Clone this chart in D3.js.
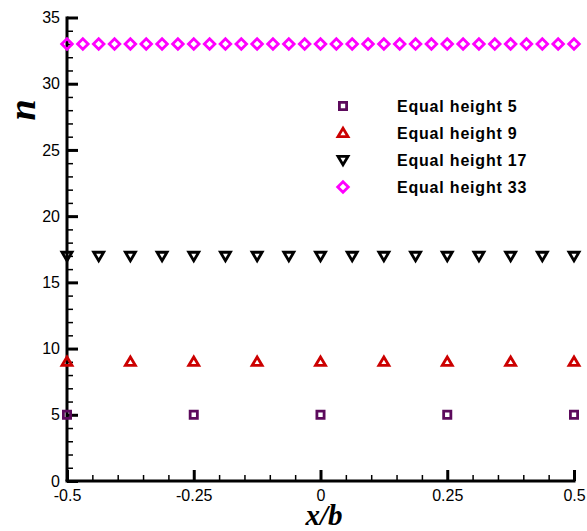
<!DOCTYPE html>
<html><head><meta charset="utf-8">
<script src="https://cdn.jsdelivr.net/npm/d3@7/dist/d3.min.js"></script>
<style>body{margin:0;background:#fff}svg{display:block}</style>
</head><body>
<script>
const xs5 = [-0.5, -0.25, 0, 0.25, 0.5];
const xs9 = [-0.5, -0.375, -0.25, -0.125, 0, 0.125, 0.25, 0.375, 0.5];
const xs17 = [-0.5, -0.4375, -0.375, -0.3125, -0.25, -0.1875, -0.125, -0.0625, 0, 0.0625, 0.125, 0.1875, 0.25, 0.3125, 0.375, 0.4375, 0.5];
const xs33 = [-0.5, -0.46875, -0.4375, -0.40625, -0.375, -0.34375, -0.3125, -0.28125, -0.25, -0.21875, -0.1875, -0.15625, -0.125, -0.09375, -0.0625, -0.03125, 0, 0.03125, 0.0625, 0.09375, 0.125, 0.15625, 0.1875, 0.21875, 0.25, 0.28125, 0.3125, 0.34375, 0.375, 0.40625, 0.4375, 0.46875, 0.5];
const ys5 = [5, 5, 5, 5, 5];
const ys9 = [9, 9, 9, 9, 9, 9, 9, 9, 9];
const ys17 = [17, 17, 17, 17, 17, 17, 17, 17, 17, 17, 17, 17, 17, 17, 17, 17, 17];
const ys33 = [33, 33, 33, 33, 33, 33, 33, 33, 33, 33, 33, 33, 33, 33, 33, 33, 33, 33, 33, 33, 33, 33, 33, 33, 33, 33, 33, 33, 33, 33, 33, 33, 33];
const seriesNames = ["Equal height 5", "Equal height 9", "Equal height 17", "Equal height 33"];
const xTicks = [-0.5, -0.25, 0, 0.25, 0.5];
const xTickLabels = ["-0.5", "-0.25", "0", "0.25", "0.5"];
const yTicks = [0, 5, 10, 15, 20, 25, 30, 35];

const W = 587, H = 531;
const svg = d3.select("body").append("svg").attr("width", W).attr("height", H);
const x = d3.scaleLinear().domain([-0.5, 0.5]).range([67, 574]);
const y = d3.scaleLinear().domain([0, 35]).range([481, 17.5]);

const styles = [
  {sym: "square", color: "#5c0a5c"},
  {sym: "tri", color: "#cc0000"},
  {sym: "tridown", color: "#000000"},
  {sym: "diamond", color: "#ff00ff"}
];
function sym(g, kind, color) {
  let d;
  if (kind === "square") d = "M-3.6,-3.6H3.6V3.6H-3.6Z";
  else if (kind === "tri") d = "M0,-4.8L5,3.6H-5Z";
  else if (kind === "tridown") d = "M0,4.8L5,-3.6H-5Z";
  else d = "M0,-5.3L5.3,0L0,5.3L-5.3,0Z";
  g.append("path").attr("d", d).attr("fill", "none").attr("stroke", color).attr("stroke-width", 2.8).attr("stroke-linejoin", "miter");
}

const font = "Arial, Liberation Sans, sans-serif";
// axes
const xMinor = d3.range(-0.5, 0.5001, 0.05).map(v => +v.toFixed(3));
const yMinor = d3.range(0, 35.001, 1);
const ax = svg.append("g");
const gx = ax.append("g").attr("transform", `translate(0,${y(0)})`)
  .call(d3.axisBottom(x).tickValues(xMinor).tickSize(-6).tickFormat(""));
gx.selectAll("line").attr("stroke", "#000").attr("stroke-width", 1.5);
const gx2 = ax.append("g").attr("transform", `translate(0,${y(0)})`)
  .call(d3.axisBottom(x).tickValues(xTicks).tickSize(-11).tickPadding(9).tickFormat((d, i) => xTickLabels[i]));
gx2.selectAll("line").attr("stroke", "#000").attr("stroke-width", 3);
gx2.selectAll("text").attr("font-family", font).attr("font-size", 16).attr("fill", "#000");
ax.selectAll(".domain").remove();

const gy = ax.append("g").attr("transform", `translate(${x(-0.5)},0)`)
  .call(d3.axisLeft(y).tickValues(yMinor).tickSize(-6).tickFormat(""));
gy.selectAll("line").attr("stroke", "#000").attr("stroke-width", 1.5);
const gy2 = ax.append("g").attr("transform", `translate(${x(-0.5)},0)`)
  .call(d3.axisLeft(y).tickValues(yTicks).tickSize(-11).tickPadding(7).tickFormat(d3.format("d")));
gy2.selectAll("line").attr("stroke", "#000").attr("stroke-width", 3);
gy2.selectAll("text").attr("font-family", font).attr("font-size", 16).attr("fill", "#000");
ax.selectAll(".domain").remove();

ax.append("line").attr("x1", x(-0.5) - 1.5).attr("x2", x(0.5) + 1.5).attr("y1", y(0)).attr("y2", y(0)).attr("stroke", "#000").attr("stroke-width", 3);
ax.append("line").attr("x1", x(-0.5)).attr("x2", x(-0.5)).attr("y1", y(0)).attr("y2", y(35) - 1).attr("stroke", "#000").attr("stroke-width", 3);

// series
const data = [[xs5, ys5], [xs9, ys9], [xs17, ys17], [xs33, ys33]];
data.forEach(([xv, yv], si) => {
  xv.forEach((xx, i) => {
    const g = svg.append("g").attr("transform", `translate(${x(xx)},${y(yv[i])})`);
    sym(g, styles[si].sym, styles[si].color);
  });
});

// legend
const legY = [106, 133, 160, 187];
seriesNames.forEach((n, i) => {
  const g = svg.append("g").attr("transform", `translate(343,${legY[i]})`);
  sym(g, styles[i].sym, styles[i].color);
  svg.append("text").attr("x", 397).attr("y", legY[i]).attr("dy", "0.35em")
    .attr("font-family", font).attr("font-weight", "bold").attr("font-size", 16)
    .attr("letter-spacing", 0.8).attr("fill", "#000").text(n);
});

// axis titles
svg.append("text").attr("x", 324).attr("y", 525).attr("text-anchor", "middle")
  .attr("font-family", "Liberation Serif, Times New Roman, serif").attr("font-style", "italic").attr("font-weight", "bold")
  .attr("font-size", 29).attr("fill", "#000").text("x/b");
svg.append("text").attr("transform", "translate(35,110) rotate(-90)").attr("text-anchor", "middle")
  .attr("font-family", "Liberation Serif, Times New Roman, serif").attr("font-style", "italic").attr("font-weight", "bold")
  .attr("font-size", 38).attr("fill", "#000").text("n");
</script>
</body></html>
